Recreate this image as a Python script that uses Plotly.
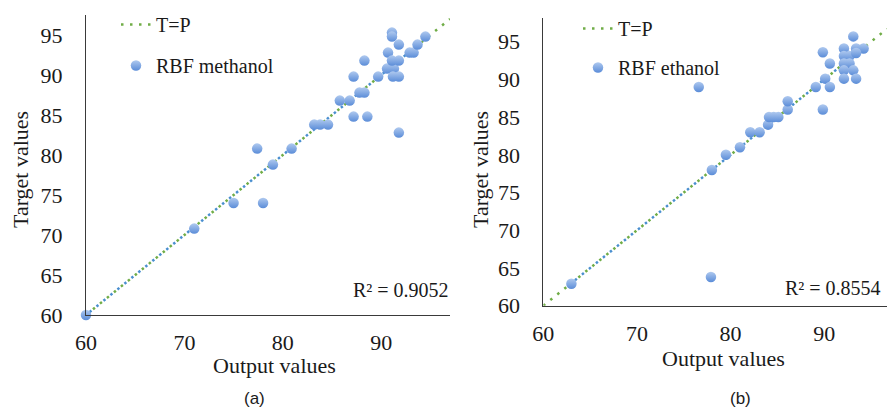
import numpy as np
import plotly.graph_objects as go

# ---------------- data ----------------
meth_output = [60, 71, 75, 78, 77.4, 79, 80.9, 83.2, 83.8, 84.6, 85.8, 86.8, 87.2, 88.6,
               87.2, 88.3, 87.8, 88.3, 89.7, 90.6, 91.3, 90.7, 91.1, 91.8, 91.2, 91.8,
               91.8, 91.1, 91.1, 91.8, 92.9, 93.3, 93.7, 94.5]
meth_target = [60, 70.8, 74, 74, 80.8, 78.8, 80.8, 83.8, 83.8, 83.8, 86.8, 86.8, 84.8, 84.8,
               89.8, 91.8, 87.8, 87.8, 89.8, 90.8, 90.8, 92.8, 91.8, 91.8, 89.8, 89.8,
               82.8, 95.3, 94.8, 93.8, 92.8, 92.8, 93.8, 94.8]

eth_output = [63.0, 77.9, 76.6, 78.0, 79.5, 81.0, 82.1, 83.1, 84.0, 84.1, 84.6, 85.1,
              86.1, 86.1, 89.85, 89.1, 90.1, 90.6, 90.6, 89.85, 92.1, 92.1, 92.7, 92.1,
              92.7, 92.1, 93.1, 92.1, 93.4, 93.1, 93.4, 94.2, 93.4]
eth_target = [62.9, 63.8, 89.0, 78.0, 80.0, 81.0, 83.0, 83.0, 84.0, 85.0, 85.0, 85.0,
              86.0, 87.1, 86.0, 89.0, 90.1, 89.0, 92.1, 93.6, 94.1, 93.1, 93.1, 92.1,
              92.1, 91.2, 91.2, 90.1, 90.1, 95.7, 94.1, 94.1, 93.5]

r2_labels = ["R² = 0.9052", "R² = 0.8554"]
panel_labels = ["(a)", "(b)"]
series_names = ["RBF methanol", "RBF ethanol"]
x_ticks = [60, 70, 80, 90]
y_ticks = [60, 65, 70, 75, 80, 85, 90, 95]
x_ranges = [[60, 97.0], [60, 96.7]]
y_ranges = [[60, 97.5], [60, 98.1]]

W, H = 887, 410
SERIF = "Liberation Serif"
SANS = "Liberation Sans"
GREEN = "#70AD47"
BLUE_LINE = "#4A8FD0"

fig = go.Figure()

panels = [
    dict(xo=meth_output, yt=meth_target, xa="x", ya="y", legend="legend"),
    dict(xo=eth_output, yt=eth_target, xa="x2", ya="y2", legend="legend2"),
]

for i, p in enumerate(panels):
    xr = x_ranges[i]
    fig.add_trace(go.Scatter(
        x=xr, y=xr, mode="lines", name="T=P",
        line=dict(color=GREEN, width=2.5, dash="2.5px,6.5px"),
        xaxis=p["xa"], yaxis=p["ya"], legend=p["legend"], legendgroup=f"tp{i}"))
    lo, hi = min(p["xo"]), max(p["xo"])
    fig.add_trace(go.Scatter(
        x=[lo, hi], y=[lo, hi], mode="lines", showlegend=False,
        line=dict(color=BLUE_LINE, width=2.5, dash="0px,4.5px,2.5px,2px"),
        xaxis=p["xa"], yaxis=p["ya"]))
    fig.add_trace(go.Scatter(
        x=p["xo"], y=p["yt"], mode="markers", name=series_names[i],
        marker=dict(size=10.5, color="#AFC9EF",
                    gradient=dict(type="vertical", color="#5A8CD8"),
                    line=dict(width=0)),
        xaxis=p["xa"], yaxis=p["ya"], legend=p["legend"], legendgroup=f"pts{i}",
        cliponaxis=False))

axis_common = dict(
    showgrid=False, zeroline=False, showline=True, linecolor="#3a3a3a", linewidth=1,
    ticks="", tickfont=dict(family=SERIF, size=22, color="#1a1a1a"),
    fixedrange=True, automargin=False,
)

fig.update_layout(
    width=W, height=H, margin=dict(l=0, r=0, t=0, b=0, autoexpand=False),
    paper_bgcolor="white", plot_bgcolor="white",
    xaxis=dict(domain=[86 / W, 450 / W], range=x_ranges[0], tickvals=x_ticks,
               anchor="y", ticklabelstandoff=8, **axis_common),
    yaxis=dict(domain=[(H - 315) / H, (H - 15) / H], range=y_ranges[0], tickvals=y_ticks,
               anchor="x", ticklabelstandoff=18, **axis_common),
    xaxis2=dict(domain=[543.3 / W, 1.0], range=x_ranges[1], tickvals=x_ticks,
                anchor="y2", ticklabelstandoff=8, **axis_common),
    yaxis2=dict(domain=[(H - 305.7) / H, (H - 18.3) / H], range=y_ranges[1], tickvals=y_ticks,
                anchor="x2", ticklabelstandoff=18, **axis_common),
    legend=dict(x=(158 - 42) / W, y=(H - 5) / H, xanchor="left", yanchor="top",
                bgcolor="rgba(0,0,0,0)", font=dict(family=SERIF, size=20, color="#1a1a1a"),
                tracegroupgap=12, traceorder="grouped"),
    legend2=dict(x=(620 - 42) / W, y=(H - 9) / H, xanchor="left", yanchor="top",
                 bgcolor="rgba(0,0,0,0)", font=dict(family=SERIF, size=20, color="#1a1a1a"),
                 tracegroupgap=10, traceorder="grouped"),
    showlegend=True,
)

def px_ann(text, x, y, size=22, family=SERIF, xanchor="center", yanchor="middle", angle=0):
    fig.add_annotation(text=text, x=x / W, y=(H - y) / H, xref="paper", yref="paper",
                       showarrow=False, xanchor=xanchor, yanchor=yanchor, textangle=angle,
                       font=dict(family=family, size=size, color="#1a1a1a"), borderpad=0)

px_ann("Output values", 274, 365)
px_ann("Target values", 20, 170, angle=-90)
px_ann("Output values", 723, 358)
px_ann("Target values", 480, 170, angle=-90)
px_ann(r2_labels[0], 450, 290, size=20, xanchor="right")
px_ann(r2_labels[1], 882, 288, size=20, xanchor="right")
px_ann(panel_labels[0], 254, 398, size=17, family=SANS)
px_ann(panel_labels[1], 740, 398, size=17, family=SANS)

fig.write_html("out.html", config={"displayModeBar": False, "staticPlot": True},
               post_script="document.body.style.margin='0';document.body.style.overflow='hidden';")
